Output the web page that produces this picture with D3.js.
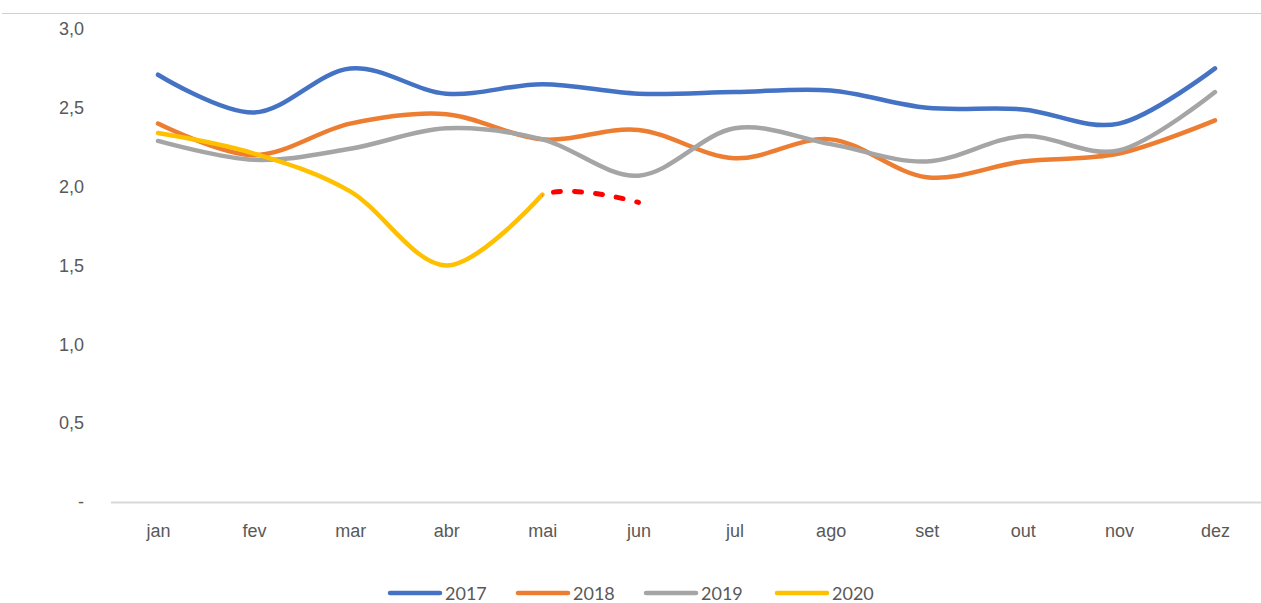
<!DOCTYPE html>
<html>
<head>
<meta charset="utf-8">
<script src="https://cdn.jsdelivr.net/npm/d3@7"></script>
<style>
  body { margin: 0; background: #fff; }
  svg { display: block; font-family: Lato, "Open Sans", sans-serif; }
</style>
</head>
<body>
<div id="chart"></div>
<script>
let width = 1261;
let height = 603;

let months = ['jan', 'fev', 'mar', 'abr', 'mai', 'jun', 'jul', 'ago', 'set', 'out', 'nov', 'dez'];
let years = ['2017', '2018', '2019', '2020'];
let colors = ['#4472C4', '#ED7D31', '#A5A5A5', '#FFC000'];

let v2017 = [2.71, 2.47, 2.75, 2.59, 2.65, 2.59, 2.60, 2.61, 2.50, 2.49, 2.40, 2.75];
let v2018 = [2.40, 2.20, 2.40, 2.46, 2.30, 2.36, 2.18, 2.30, 2.06, 2.16, 2.21, 2.42];
let v2019 = [2.29, 2.17, 2.24, 2.37, 2.30, 2.07, 2.37, 2.27, 2.16, 2.32, 2.23, 2.60];
let v2020 = [2.34, 2.21, 1.97, 1.50, 1.95];
// projection (red dashed), drawn from abr so the curve leaves mai smoothly
let proj = [null, null, null, 1.50, 1.95, 1.90];

let yTicks = [0, 0.5, 1, 1.5, 2, 2.5, 3];

let x = d3.scalePoint()
  .domain(months)
  .range([158, 1215]);

let y = d3.scaleLinear()
  .domain([0, 3])
  .range([502, 29]);

let svg = d3.select('#chart').append('svg')
  .attr('width', width)
  .attr('height', height);

// top border line
svg.append('line')
  .attr('x1', 2).attr('x2', width)
  .attr('y1', 13.5).attr('y2', 13.5)
  .attr('stroke', '#d0d0d0')
  .attr('stroke-width', 1);

// y axis labels
let yAxis = d3.axisLeft(y)
  .tickValues(yTicks)
  .tickSize(0)
  .tickPadding(0)
  .tickFormat((d) => d === 0 ? '-' : d3.format('.1f')(d).replace('.', ','));

svg.append('g')
  .attr('transform', 'translate(84,0)')
  .call(yAxis)
  .call((g) => g.select('.domain').remove())
  .selectAll('text')
  .attr('fill', '#595959')
  .style('font-size', '18px');

// x axis
let xAxis = d3.axisBottom(x).tickSize(0).tickPadding(22);

let gx = svg.append('g')
  .attr('transform', `translate(0,${y(0)})`)
  .call(xAxis);

gx.select('.domain')
  .attr('d', 'M111,0.5H1262')
  .attr('stroke', '#d9d9d9')
  .attr('stroke-width', 2);

gx.selectAll('text')
  .attr('fill', '#595959')
  .style('font-size', '18px');

let line = d3.line()
  .defined((d) => d != null)
  .x((d, i) => x(months[i]))
  .y((d) => y(d))
  .curve(d3.curveCardinal.tension(0));

let series = [v2017, v2018, v2019, v2020];

series.forEach((s, i) => {
  svg.append('path')
    .datum(s)
    .attr('d', line)
    .attr('fill', 'none')
    .attr('stroke', colors[i])
    .attr('stroke-width', 4.5)
    .attr('stroke-linecap', 'round')
    .attr('stroke-linejoin', 'round');
});

// projection: only the part after mai is visible
svg.append('clipPath')
  .attr('id', 'proj-clip')
  .append('rect')
  .attr('x', x('mai'))
  .attr('y', 0)
  .attr('width', width)
  .attr('height', height);

let projPath = svg.append('path')
  .datum(proj)
  .attr('d', line)
  .attr('clip-path', 'url(#proj-clip)')
  .attr('fill', 'none')
  .attr('stroke', '#FF0000')
  .attr('stroke-width', 5)
  .attr('stroke-dasharray', '7,14')
  .attr('stroke-linecap', 'round');

// line the dashes up so a short dash ends on the jun point
let len = projPath.node().getTotalLength();
projPath.attr('stroke-dashoffset', 23 - (len % 21));

// legend
let legendX = [390, 518, 646, 777];

let legend = svg.append('g');

years.forEach((yr, i) => {
  let g = legend.append('g')
    .attr('transform', `translate(${legendX[i]},593)`);

  g.append('line')
    .attr('x1', 0).attr('x2', 50)
    .attr('y1', 0).attr('y2', 0)
    .attr('stroke', colors[i])
    .attr('stroke-width', 4.5)
    .attr('stroke-linecap', 'round');

  g.append('text')
    .text(yr)
    .attr('x', 55)
    .attr('y', 6.5)
    .attr('fill', '#595959')
    .style('font-size', '18px');
});
</script>
</body>
</html>
